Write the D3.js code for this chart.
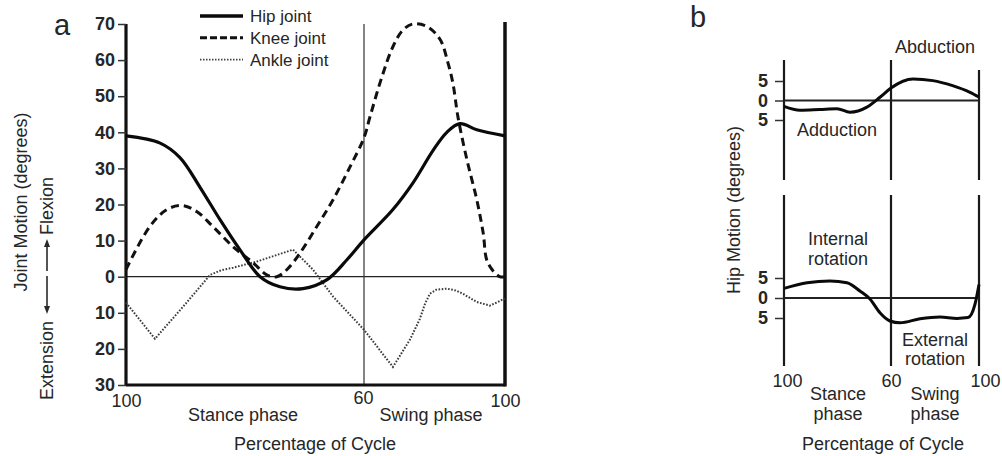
<!DOCTYPE html>
<html>
<head>
<meta charset="utf-8">
<script src="https://cdn.jsdelivr.net/npm/d3@7"></script>
<style>
  html, body { margin: 0; padding: 0; background: #fff; }
  svg { display: block; }
  text { font-family: "Liberation Sans", Arial, Helvetica, sans-serif; fill: #262626; }
</style>
</head>
<body>
<svg id="chart" width="1002" height="456"></svg>
<script>
// ---------------- DATA ----------------
// Panel a: joint motion over gait cycle (% of cycle 0..100, stance = 0..60)
const hipCycle   = [0, 8.6, 13.6, 18.7, 23.7, 28.7, 33.8, 38.8, 44.6, 50.7, 55.7, 60, 68.2, 73.9, 79.6, 83.5, 87.2, 92, 100];
const hipValues  = [39, 37, 33, 24.7, 15.8, 7.5, 0, -2.8, -3.3, -0.8, 4.7, 10.2, 18.6, 26, 35, 40, 42.4, 40.7, 39];

const kneeCycle  = [0, 6, 10.3, 14.1, 17.9, 21.9, 27, 32, 35.5, 38, 40.6, 43.9, 48.1, 52.2, 56.5, 60, 61.7, 65.1, 68.2, 71.1, 73.9, 77.9, 81.6, 83.8, 85.2, 86.7, 89.2, 92, 93.8, 95.1, 98.5, 100];
const kneeValues = [2, 13.9, 18.6, 19.7, 18, 13.9, 8.3, 3.9, 0.5, 0, 2, 6.6, 13.9, 21.3, 30.5, 38.5, 44.3, 55.4, 63.7, 68.4, 70, 69.3, 65.7, 59.3, 53.7, 44, 32.4, 21.3, 12.2, 3.9, 0, 0];

const ankleCycle  = [0, 7.3, 14.4, 21.2, 24, 27, 33, 42.1, 47.1, 52.2, 60, 68.2, 73, 75.8, 77.3, 78.7, 80.5, 83.5, 86, 88, 92, 95.7, 98, 100];
const ankleValues = [-7.2, -17.2, -8.3, 0.5, 1.8, 2.5, 4.2, 7.5, 2, -5.5, -14.7, -25, -17.5, -11.8, -7.5, -4.7, -3.6, -3.3, -3.8, -4.7, -7, -8, -7, -6];

// Panel b: hip abduction/adduction and rotation
const abdCycle  = [0, 9, 20, 29.7, 37, 46.5, 54, 60, 70, 79, 88, 95.9, 100];
const abdValues = [-1.5, -2.5, -2.3, -2.1, -3, -1.7, 0.9, 3.2, 5.5, 5.1, 3.8, 2.1, 0.9];

const rotCycle  = [0, 13, 25.8, 35.3, 42.6, 48.2, 53.8, 59.4, 64.1, 73.2, 82.3, 90, 95, 98.2, 100];
const rotValues = [2.4, 3.8, 4.25, 3.8, 1.75, -0.25, -3.7, -5.75, -6.2, -5.2, -4.75, -5.1, -4.9, -1.5, 3.4];

// Tick labels
const yTicksA = [70, 60, 50, 40, 30, 20, 10, 0, -10, -20, -30];
const yTicksB = [5, 0, -5];
const xTicks = [0, 60, 100];
const xTickLabels = ["100", "60", "100"];
const legendNames = ["Hip joint", "Knee joint", "Ankle joint"];

// ---------------- DRAW ----------------
const svg = d3.select("#chart");
svg.append("rect").attr("width", 1002).attr("height", 456).attr("fill", "#fff");

const FS = 18;
const zip = (xs, ys) => xs.map((x, i) => [x, ys[i]]);

// ===== Panel a =====
const xa = d3.scaleLinear().domain([0, 60, 100]).range([126, 364, 505]);
const ya = d3.scaleLinear().domain([-30, 70]).range([385, 24]);

const ga = svg.append("g");

// zero line
ga.append("line").attr("x1", xa(0)).attr("x2", xa(100)).attr("y1", ya(0)).attr("y2", ya(0))
  .attr("stroke", "#222").attr("stroke-width", 1.3);
// 60% divider
ga.append("line").attr("x1", xa(60)).attr("x2", xa(60)).attr("y1", ya(70)).attr("y2", ya(-30))
  .attr("stroke", "#333").attr("stroke-width", 1.2);
// right border
ga.append("line").attr("x1", xa(100)).attr("x2", xa(100)).attr("y1", ya(70) - 2).attr("y2", ya(-30) + 1.5)
  .attr("stroke", "#111").attr("stroke-width", 3.5);

// y axis
const yAxisA = d3.axisLeft(ya).tickValues(yTicksA).tickFormat(d => Math.abs(d)).tickSize(8).tickPadding(3);
const gya = ga.append("g").attr("transform", `translate(${xa(0)},0)`).call(yAxisA);
gya.select(".domain").attr("stroke", "#111").attr("stroke-width", 3.2).attr("d", `M0,${ya(70)}V${ya(-30)}`);
gya.selectAll(".tick line").attr("stroke", "#333").attr("stroke-width", 1.5);
gya.selectAll(".tick text").attr("font-size", FS).attr("font-family", "Liberation Sans, Arial, sans-serif").attr("fill", "#2a2a2a").style("font-weight", 600);

// x axis
const xAxisA = d3.axisBottom(xa).tickValues(xTicks).tickFormat((d, i) => xTickLabels[i]).tickSize(0).tickPadding(9);
const gxa = ga.append("g").attr("transform", `translate(0,${ya(-30)})`).call(xAxisA);
gxa.select(".domain").attr("stroke", "#111").attr("stroke-width", 3.2).attr("d", `M${xa(0)},0H${xa(100)}`);
gxa.selectAll(".tick text").attr("font-size", FS).attr("font-family", "Liberation Sans, Arial, sans-serif").attr("fill", "#2a2a2a");
gxa.selectAll(".tick text").filter((d, i) => i === 1).attr("dx", -1).attr("dy", "0.55em");

const lineA = d3.line().x(d => xa(d[0])).y(d => ya(d[1])).curve(d3.curveCatmullRom.alpha(0.5));
const lineAnkle = d3.line().x(d => xa(d[0])).y(d => ya(d[1])).curve(d3.curveLinear);

// ankle (dotted)
ga.append("path").datum(zip(ankleCycle, ankleValues)).attr("d", lineAnkle)
  .attr("fill", "none").attr("stroke", "#3a3a3a").attr("stroke-width", 2).attr("stroke-dasharray", "1.6,1.6");
// knee (dashed)
ga.append("path").datum(zip(kneeCycle, kneeValues)).attr("d", lineA)
  .attr("fill", "none").attr("stroke", "#111").attr("stroke-width", 3).attr("stroke-dasharray", "8,5");
// hip (solid)
ga.append("path").datum(zip(hipCycle, hipValues)).attr("d", lineA)
  .attr("fill", "none").attr("stroke", "#0a0a0a").attr("stroke-width", 3.2);

// legend
const legStyles = [
  { dash: null, w: 3.5, c: "#0a0a0a" },
  { dash: "7,3", w: 3, c: "#111" },
  { dash: "1.5,1.5", w: 1.8, c: "#444" }
];
legendNames.forEach((name, i) => {
  const y = 16 + i * 21.8;
  const l = ga.append("line").attr("x1", 200).attr("x2", 243).attr("y1", y).attr("y2", y)
    .attr("stroke", legStyles[i].c).attr("stroke-width", legStyles[i].w);
  if (legStyles[i].dash) l.attr("stroke-dasharray", legStyles[i].dash);
  ga.append("text").attr("x", 250).attr("y", y + 6.3).attr("font-size", 17).text(name);
});

// labels a
ga.append("text").attr("x", xa(30) - 2).attr("y", 421).attr("text-anchor", "middle").attr("font-size", FS).text("Stance phase");
ga.append("text").attr("x", 431).attr("y", 421).attr("text-anchor", "middle").attr("font-size", FS).text("Swing phase");
ga.append("text").attr("x", 315).attr("y", 450).attr("text-anchor", "middle").attr("font-size", FS).text("Percentage of Cycle");
ga.append("text").attr("transform", "translate(27,202) rotate(-90)").attr("text-anchor", "middle").attr("font-size", FS).text("Joint Motion (degrees)");
// Extension <-- --> Flexion
ga.append("text").attr("transform", "translate(53,400) rotate(-90)").attr("text-anchor", "start").attr("font-size", FS).text("Extension");
ga.append("text").attr("transform", "translate(53,235) rotate(-90)").attr("text-anchor", "start").attr("font-size", FS).text("Flexion");
const ax = 47;
const arr = ga.append("g").attr("stroke", "#2a2a2a").attr("fill", "#2a2a2a");
arr.append("line").attr("x1", ax).attr("x2", ax).attr("y1", 309).attr("y2", 276).attr("stroke-width", 1.6);
arr.append("line").attr("x1", ax).attr("x2", ax).attr("y1", 271).attr("y2", 244).attr("stroke-width", 1.6);
arr.append("path").attr("d", `M${ax - 3},306L${ax},314L${ax + 3},306Z`).attr("stroke", "none");
arr.append("path").attr("d", `M${ax - 3},247L${ax},239L${ax + 3},247Z`).attr("stroke", "none");

svg.append("text").attr("x", 54).attr("y", 35).attr("font-size", 29).attr("font-family", "Lato, 'Open Sans', sans-serif").attr("fill", "#000").text("a");

// ===== Panel b =====
const xb = d3.scaleLinear().domain([0, 60, 100]).range([784, 891, 979]);
const ybT = d3.scaleLinear().domain([-5, 5]).range([120, 81]);
const ybB = d3.scaleLinear().domain([-5, 5]).range([318, 278]);

const gb = svg.append("g");
const vStroke = "#1a1a1a";
// vertical dividers (top part & bottom part)
[[0, 60], [60, 60], [100, 70]].forEach(([c, top]) => {
  gb.append("line").attr("x1", xb(c)).attr("x2", xb(c)).attr("y1", top).attr("y2", 180)
    .attr("stroke", vStroke).attr("stroke-width", 2.2);
  gb.append("line").attr("x1", xb(c)).attr("x2", xb(c)).attr("y1", 195).attr("y2", 366)
    .attr("stroke", vStroke).attr("stroke-width", 2.2);
});
// zero lines
gb.append("line").attr("x1", xb(0)).attr("x2", xb(100)).attr("y1", ybT(0)).attr("y2", ybT(0))
  .attr("stroke", "#222").attr("stroke-width", 2);
gb.append("line").attr("x1", xb(0)).attr("x2", xb(100)).attr("y1", ybB(0)).attr("y2", ybB(0))
  .attr("stroke", "#222").attr("stroke-width", 2);

function yAxisB(scale) {
  const axB = d3.axisLeft(scale).tickValues(yTicksB).tickFormat(d => Math.abs(d)).tickSize(8).tickPadding(7);
  const g = gb.append("g").attr("transform", `translate(${xb(0) - 1},0)`).call(axB);
  g.select(".domain").remove();
  g.selectAll(".tick line").attr("stroke", "#333").attr("stroke-width", 1.5);
  g.selectAll(".tick text").attr("font-size", FS).attr("font-family", "Liberation Sans, Arial, sans-serif").attr("fill", "#2a2a2a").style("font-weight", 600);
}
yAxisB(ybT);
yAxisB(ybB);

const xAxisB = d3.axisBottom(xb).tickValues(xTicks).tickFormat((d, i) => xTickLabels[i]).tickSize(0).tickPadding(8);
const gxb = gb.append("g").attr("transform", "translate(0,366)").call(xAxisB);
gxb.select(".domain").remove();
gxb.selectAll(".tick text").attr("font-size", FS).attr("font-family", "Liberation Sans, Arial, sans-serif").attr("fill", "#2a2a2a");
gxb.selectAll(".tick text").filter((d, i) => i === 0).attr("dx", 3);
gxb.selectAll(".tick text").filter((d, i) => i === 2).attr("dx", 6);

const lineBT = d3.line().x(d => xb(d[0])).y(d => ybT(d[1])).curve(d3.curveMonotoneX);
const lineBB = d3.line().x(d => xb(d[0])).y(d => ybB(d[1])).curve(d3.curveMonotoneX);
gb.append("path").datum(zip(abdCycle, abdValues)).attr("d", lineBT)
  .attr("fill", "none").attr("stroke", "#0a0a0a").attr("stroke-width", 3);
gb.append("path").datum(zip(rotCycle, rotValues)).attr("d", lineBB)
  .attr("fill", "none").attr("stroke", "#0a0a0a").attr("stroke-width", 3);

function label(x, y, t) {
  gb.append("text").attr("x", x).attr("y", y).attr("text-anchor", "middle").attr("font-size", FS).text(t);
}
label(935, 53, "Abduction");
label(837, 136, "Adduction");
label(838, 245, "Internal");
label(838, 265, "rotation");
label(935, 346, "External");
label(935, 365, "rotation");
label(838, 400, "Stance");
label(838, 420, "phase");
label(935, 400, "Swing");
label(935, 420, "phase");
label(883, 450, "Percentage of Cycle");
gb.append("text").attr("transform", "translate(740,210) rotate(-90)").attr("text-anchor", "middle").attr("font-size", FS).text("Hip Motion (degrees)");
svg.append("text").attr("x", 690).attr("y", 27).attr("font-size", 29).attr("font-family", "Lato, 'Open Sans', sans-serif").attr("fill", "#000").text("b");
</script>
</body>
</html>
